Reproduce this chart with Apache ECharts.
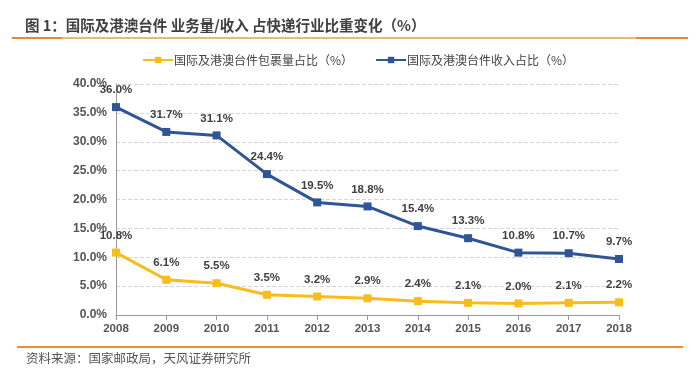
<!DOCTYPE html>
<html><head><meta charset="utf-8">
<script src="https://cdn.jsdelivr.net/npm/echarts@6/dist/echarts.min.js"></script>
<style>html,body{margin:0;padding:0;background:#fff}#c{width:700px;height:378px}</style>
</head><body><div id="c"></div>
<script>
var years = ['2008','2009','2010','2011','2012','2013','2014','2015','2016','2017','2018'];
var volumeShare = [10.8, 6.1, 5.5, 3.5, 3.2, 2.9, 2.4, 2.1, 2.0, 2.1, 2.2];
var revenueShare = [36.0, 31.7, 31.1, 24.4, 19.5, 18.8, 15.4, 13.3, 10.8, 10.7, 9.7];
var volumeName = '国际及港澳台件包裹量占比（%）';
var revenueName = '国际及港澳台件收入占比（%）';
var titleText = '图 1：国际及港澳台件 业务量/收入 占快递行业比重变化（%）';
var sourceText = '资料来源：国家邮政局，天风证券研究所';

var chart = echarts.init(document.getElementById('c'));
var font = '"Noto Sans CJK SC", "Liberation Sans", sans-serif';
var numFont = '"Liberation Sans", Arial, sans-serif';
var labelStyle = {show:true, position:'top', distance:7, fontSize:11.5, fontWeight:'bold', color:'#404040', fontFamily:numFont, formatter:function(p){return p.value.toFixed(1)+'%';}};
chart.setOption({
  animation:false,
  textStyle:{fontFamily:font},
  title:{text:titleText, left:20, top:13, textStyle:{fontSize:14.5, fontWeight:'bold', color:'#404040', fontFamily:font}},
  graphic:[
    {type:'line', shape:{x1:12,y1:38,x2:688,y2:38}, style:{stroke:'#dcc07a', lineWidth:2}},
    {type:'line', shape:{x1:12,y1:38,x2:62,y2:38}, style:{stroke:'#e8873a', lineWidth:2}},
    {type:'line', shape:{x1:636,y1:38,x2:688,y2:38}, style:{stroke:'#e8873a', lineWidth:2}},
    {type:'line', shape:{x1:17,y1:347,x2:683,y2:347}, style:{stroke:'#ef8a3a', lineWidth:2}},
    {type:'text', left:26, top:352, style:{text:sourceText, fontSize:12.5, fill:'#555', fontFamily:font}}
  ],
  legend:{top:49, left:137, itemGap:22, itemWidth:30, itemHeight:8,
    textStyle:{fontSize:12, color:'#444', fontFamily:font, padding:[0,0,0,-4]},
    data:[volumeName, revenueName]},
  grid:{left:116, right:81, top:84, bottom:63},
  xAxis:{type:'category', data:years, boundaryGap:false,
    axisLine:{lineStyle:{color:'#999'}}, axisTick:{show:true, lineStyle:{color:'#999'}},
    axisLabel:{fontSize:11.5, fontWeight:'bold', color:'#555', margin:8, fontFamily:numFont}},
  yAxis:{type:'value', min:0, max:40, interval:5,
    axisLine:{show:true, lineStyle:{color:'#999'}}, axisTick:{show:false},
    axisLabel:{fontSize:12, fontWeight:'bold', color:'#555', margin:9, fontFamily:numFont, formatter:function(v){return v.toFixed(1)+'%';}},
    splitLine:{lineStyle:{type:'dashed', color:'#d6d6d6'}}},
  series:[
    {name:volumeName, type:'line', data:volumeShare, symbol:'rect', symbolSize:8,
      lineStyle:{color:'#f8bd19', width:3}, itemStyle:{color:'#f8bd19'}, label:labelStyle},
    {name:revenueName, type:'line', data:revenueShare, symbol:'rect', symbolSize:8,
      lineStyle:{color:'#2f5597', width:3}, itemStyle:{color:'#2f5597'}, label:labelStyle}
  ]
});
</script></body></html>
